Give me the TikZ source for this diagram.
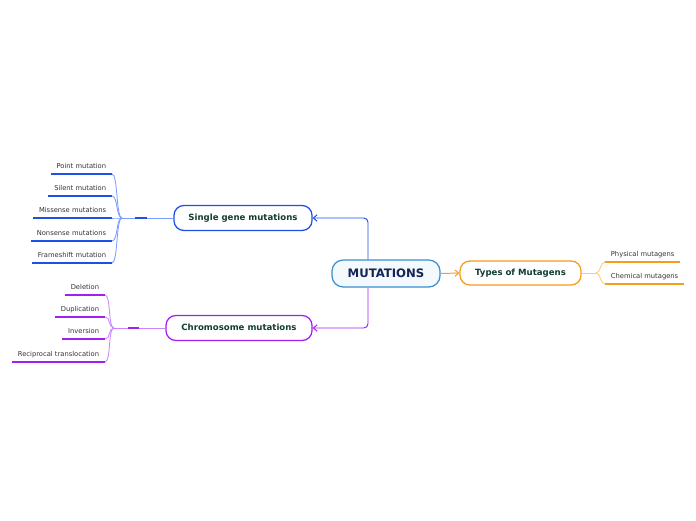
\documentclass[tikz,border=0pt]{standalone}
\usepackage{fontspec}
\setmainfont{DejaVu Sans}
\usepackage{xcolor}
\definecolor{rootblue}{HTML}{3A8FD0}
\definecolor{rootfill}{HTML}{F4F9FD}
\definecolor{roottext}{HTML}{132456}
\definecolor{genblue}{HTML}{1F4FE6}
\definecolor{genlight}{HTML}{7D9CFF}
\definecolor{chrompurple}{HTML}{A21EF2}
\definecolor{chromlight}{HTML}{C985FF}
\definecolor{mutorange}{HTML}{F59C1C}
\definecolor{mutlight}{HTML}{FFC979}
\definecolor{topictext}{HTML}{0F3D2F}
\definecolor{leaftext}{HTML}{333333}
\usepackage{tikz}
\usetikzlibrary{arrows.meta, positioning, calc}

\begin{document}
\begin{tikzpicture}[
    x=0.025cm, y=-0.025cm,
    topic/.style={rectangle, rounded corners=7pt, draw=#1, fill=white, line width=0.9pt, minimum height=0.625cm, font=\fontsize{6.1}{7}\selectfont\bfseries, text=topictext, inner sep=0pt, text depth=0.6pt},
    leaf/.style={font=\fontsize{4.8}{6}\selectfont, text=leaftext, inner xsep=4pt, inner ysep=2.6pt, text depth=1pt},
    uline/.style={line width=1.3pt, draw=#1},
    conn/.style={line width=0.6pt, draw=#1},
    knot/.style={rectangle, fill=#1, minimum height=1.3pt, inner sep=0pt},
    arr/.style={-{Straight Barb[length=2.6pt, width=4.5pt]}, line width=0.7pt, draw=#1, rounded corners=3pt},
]
    \useasboundingbox (0,0) rectangle (696,520);

    % Root
    \node[rectangle, rounded corners=8pt, draw=rootblue, fill=rootfill, line width=0.9pt, minimum width=2.7cm, minimum height=0.675cm, font=\fontsize{8.3}{10}\selectfont\bfseries, text=roottext, text depth=0.8pt] (mut) at (386,273.5) {MUTATIONS};

    % Main topics
    \node[topic=genblue, minimum width=3.45cm] (sg) at (243,218) {Single gene mutations};
    \node[topic=chrompurple, minimum width=3.65cm] (chr) at (239,328) {Chromosome mutations};
    \node[topic=mutorange, minimum width=3.025cm, minimum height=0.6cm] (tm) at (520.5,273) {Types of Mutagens};

    \draw[arr=genblue] ($(mut.north)+(-18,0)$) |- (sg.east);
    \draw[arr=chrompurple] ($(mut.south)+(-18,0)$) |- (chr.east);
    \draw[arr=mutorange] (mut.east) -- (tm.west);

    % Single gene leaves
    \coordinate (sgfork) at (122,218);
    \node[leaf, anchor=south east] (pm) at (112,174) {Point mutation};
    \node[leaf, anchor=south east] (sm) at (112,196) {Silent mutation};
    \node[leaf, anchor=south east] (mm) at (112,218) {Missense mutations};
    \node[leaf, anchor=south east] (nm) at (112,241) {Nonsense mutations};
    \node[leaf, anchor=south east] (fm) at (112,263) {Frameshift mutation};
    \draw[conn=genlight] (sg.west) -- (sgfork);
    \node[knot=genblue, minimum width=0.3cm] (sgk) at (141,218) {};
    \foreach \n in {pm, sm, mm, nm, fm} {
        \draw[conn=genlight] (sgfork) .. controls +(-6,0) and +(6,0) .. (\n.south east);
        \draw[uline=genblue] (\n.south west) -- (\n.south east);
    }

    % Chromosome leaves
    \coordinate (chfork) at (114,328);
    \node[leaf, anchor=south east] (del) at (105,295) {Deletion};
    \node[leaf, anchor=south east] (dup) at (105,317) {Duplication};
    \node[leaf, anchor=south east] (inv) at (105,339) {Inversion};
    \node[leaf, anchor=south east] (rt) at (105,362) {Reciprocal translocation};
    \draw[conn=chromlight] (chr.west) -- (chfork);
    \node[knot=chrompurple, minimum width=0.275cm] (chk) at (133.5,328) {};
    \foreach \n in {del, dup, inv, rt} {
        \draw[conn=chromlight] (chfork) .. controls +(-6,0) and +(6,0) .. (\n.south east);
        \draw[uline=chrompurple] (\n.south west) -- (\n.south east);
    }

    % Mutagen leaves
    \coordinate (tmfork) at (596,273);
    \node[leaf, anchor=south west] (phys) at (605,262) {Physical mutagens};
    \node[leaf, anchor=south west] (chem) at (605,284) {Chemical mutagens};
    \draw[conn=mutlight] (tm.east) -- (tmfork);
    \foreach \n in {phys, chem} {
        \draw[conn=mutlight] (tmfork) .. controls +(5,0) and +(-5,0) .. (\n.south west);
        \draw[uline=mutorange] (\n.south west) -- (\n.south east);
    }
\end{tikzpicture}
\end{document}
